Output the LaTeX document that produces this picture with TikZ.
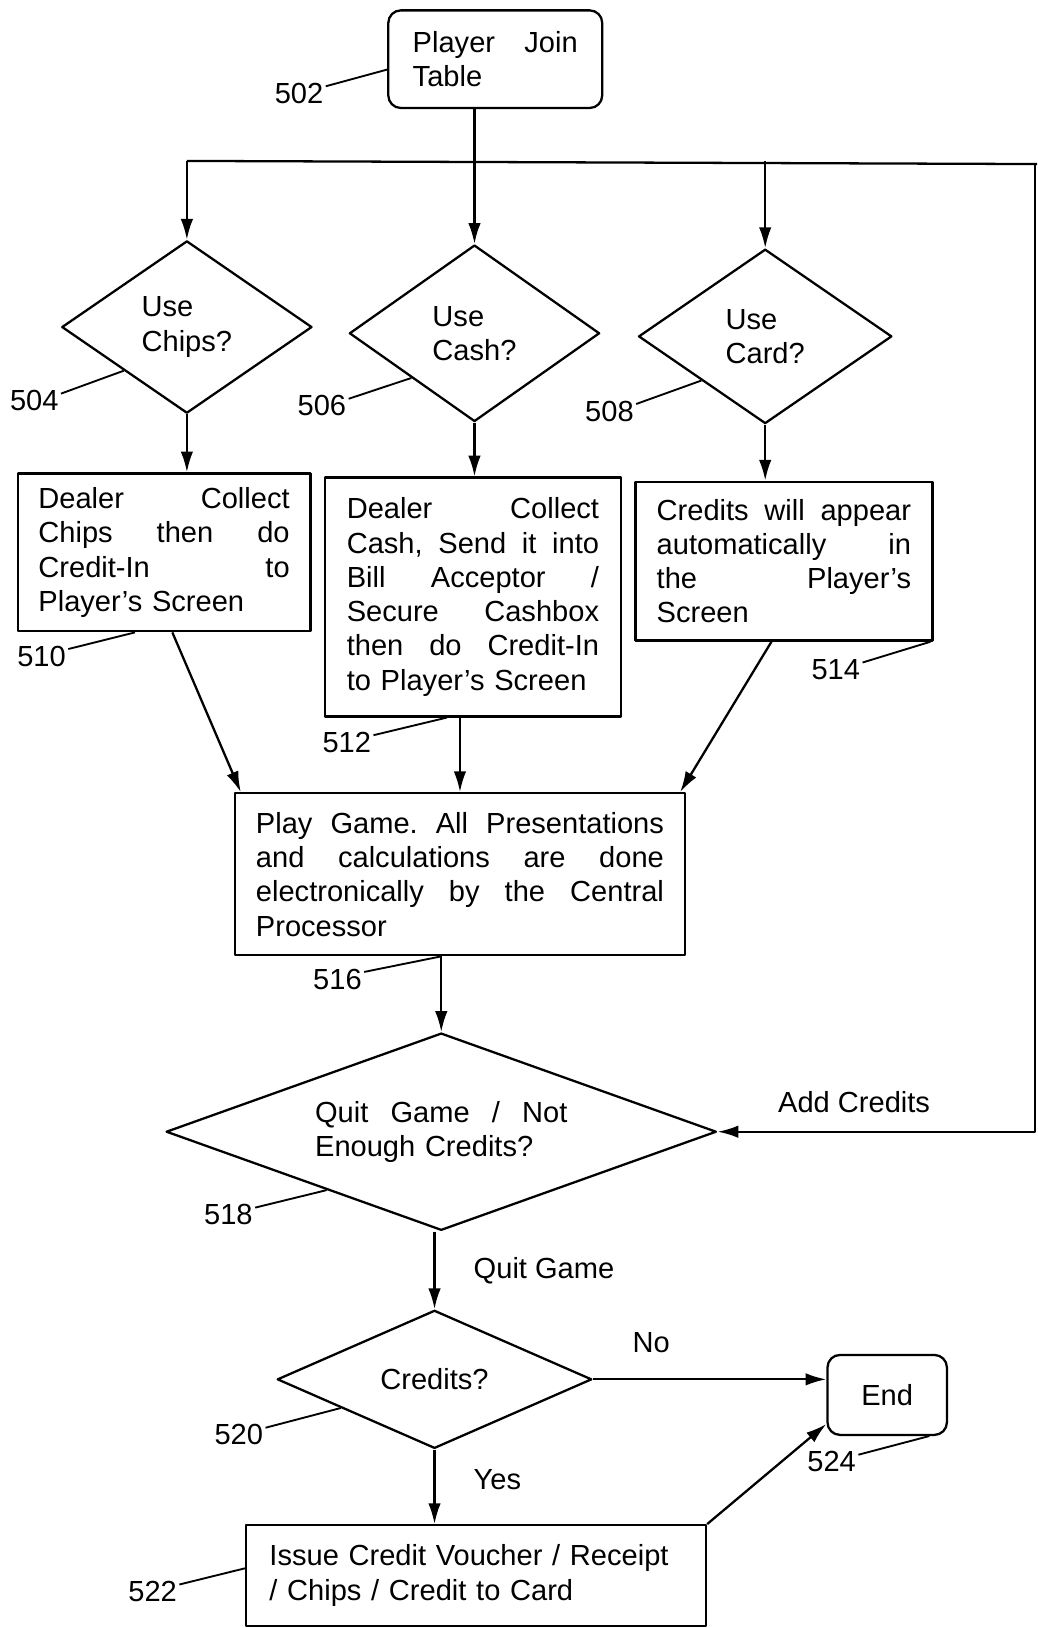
\documentclass[tikz,border=0pt]{standalone}
\usepackage{fontspec}
\setmainfont{Liberation Sans}
\usetikzlibrary{shapes.geometric,arrows.meta}
\begin{document}
\begin{tikzpicture}[x=0.5pt,y=-0.5pt,line join=round,
  font=\fontsize{14}{16.5}\selectfont,
  >={Latex[length=10pt,width=6pt]},
  box/.style={draw,line width=1.1pt,rectangle,align=left,inner sep=0pt},
  rbox/.style={box,rounded corners=6pt},
  frage/.style={draw,line width=1.1pt,diamond,align=left,inner sep=2pt},
  pfeil/.style={line width=1.1pt,->},
  nummer/.style={inner sep=1pt},
  zeiger/.style={line width=0.9pt}]
\useasboundingbox (0,0) rectangle (999,1568);

%Start
\node[rbox,minimum width=103pt,minimum height=47pt,text width=79.5pt] (start) at (477,57) {Player\hfill Join\\Table};

%Zahlungsart
\node[frage,minimum width=120.5pt,minimum height=83pt,shape aspect=1.45] (chips) at (180,315) {Use\\Chips?};
\node[frage,minimum width=120.5pt,minimum height=85pt,shape aspect=1.45] (cash) at (457,321) {Use\\Cash?};
\node[frage,minimum width=122pt,minimum height=84pt,shape aspect=1.45] (card) at (737,324) {Use\\Card?};

\node[box,minimum width=141pt,minimum height=76pt,text width=121pt] (b510) at (158,532) {Dealer\hfill Collect\\Chips\hfill then\hfill do\\Credit-In\hfill to\\Player's Screen};
\node[box,minimum width=142.5pt,minimum height=115pt,text width=121.5pt] (b512) at (455.5,575) {Dealer\hfill Collect\\Cash,\hfill Send\hfill it\hfill into\\Bill\hfill Acceptor\hfill /\\Secure\hfill Cashbox\\then\hfill do\hfill Credit-In\\to Player's Screen};
\node[box,minimum width=143pt,minimum height=76.5pt,text width=122.5pt] (b514) at (755,540.5) {Credits\hfill will\hfill appear\\automatically\hfill in\\the\hfill Player's\\Screen};

%Spiel
\node[box,minimum width=217pt,minimum height=78pt,text width=196.5pt] (b516) at (443,842) {Play\hfill Game.\hfill All\hfill Presentations\\and\hfill calculations\hfill are\hfill done\\electronically\hfill by\hfill the\hfill Central\\Processor};
\node[frage,minimum width=265pt,minimum height=95pt,shape aspect=2.8,text width=121.5pt] (quit) at (425,1090) {Quit\hfill Game\hfill /\hfill Not\\Enough Credits?};
\node[frage,minimum width=151.5pt,minimum height=66.5pt,shape aspect=2.3] (credit) at (418.5,1328.5) {Credits?};
\node[box,minimum width=221.5pt,minimum height=48.5pt,text width=199pt] (b522) at (458.5,1517.5) {Issue Credit Voucher / Receipt\\/ Chips / Credit to Card};
\node[rbox,minimum width=57.5pt,minimum height=38.5pt] (endnode) at (854.5,1343.5) {End};

%Nummern
\node[nummer] (n502) at (288,90) {502};
\node[nummer] (n504) at (33,386) {504};
\node[nummer] (n506) at (310,391) {506};
\node[nummer] (n508) at (587,396) {508};
\node[nummer] (n510) at (40,632) {510};
\node[nummer] (n512) at (334,715) {512};
\node[nummer] (n514) at (805,645) {514};
\node[nummer] (n516) at (325,943) {516};
\node[nummer] (n518) at (220,1170) {518};
\node[nummer] (n520) at (230,1382) {520};
\node[nummer] (n522) at (147,1533) {522};
\node[nummer] (n524) at (801,1408) {524};

\draw[zeiger] (n502.15) -- ([yshift=-5pt]start.west);
\draw[zeiger] (n504.15) -- (chips.south west);
\draw[zeiger] (n506.15) -- (cash.south west);
\draw[zeiger] (n508.15) -- (card.south west);
\draw[zeiger] (n510.15) -- ([xshift=-14pt]b510.south);
\draw[zeiger] (n512.15) -- ([xshift=-12.5pt]b512.south);
\draw[zeiger] (n514.15) -- ([xshift=-1.5pt]b514.south east);
\draw[zeiger] (n516.15) -- ([xshift=-9pt]b516.south);
\draw[zeiger] (n518.15) -- (quit.207);
\draw[zeiger] (n520.15) -- (credit.197);
\draw[zeiger] (n522.15) -- ([yshift=3.5pt]b522.west);
\draw[zeiger] (n524.15) -- ([xshift=-9pt]endnode.south east);

%Verbindungen
\coordinate (busL) at (180,155);
\coordinate (busR) at (999,158);
\coordinate (loop) at (997,1090);
\draw[line width=1.1pt] (busL) -- (busR);
\draw[pfeil] (start.south -| cash.north) -- (cash.north);
\draw[pfeil] (busL) -- (chips.north);
\draw[pfeil] (busL -| card.north) -- (card.north);
\draw[pfeil] (chips.south) -- (chips.south |- b510.north);
\draw[pfeil] (cash.south) -- (cash.south |- b512.north);
\draw[pfeil] (card.south) -- (card.south |- b514.north);
\draw[pfeil] ([xshift=4pt]b510.south) -- ([xshift=3.5pt]b516.north west);
\draw[pfeil] (b512.south -| b516.north) -- (b516.north);
\draw[pfeil] ([xshift=-6pt]b514.south) -- ([xshift=-3pt]b516.north east);
\draw[pfeil] (b516.south -| quit.north) -- (quit.north);
\draw[pfeil] (busR -| loop) -- (loop) -- node[pos=.57,above=5pt] (lbladd) {Add Credits} (quit.east);
\draw[pfeil] (quit.south -| credit.north) -- node[right=15pt] (lblquit) {Quit Game} (credit.north);
\draw[pfeil] (credit.east) -- node[pos=.25,above=9pt] (lblno) {No} (credit.east -| endnode.west);
\draw[pfeil] (credit.south) -- node[pos=.4,right=15pt] (lblyes) {Yes} (credit.south |- b522.north);
\draw[pfeil] (b522.north east) -- ([yshift=-14pt]endnode.west);

\end{tikzpicture}
\end{document}
